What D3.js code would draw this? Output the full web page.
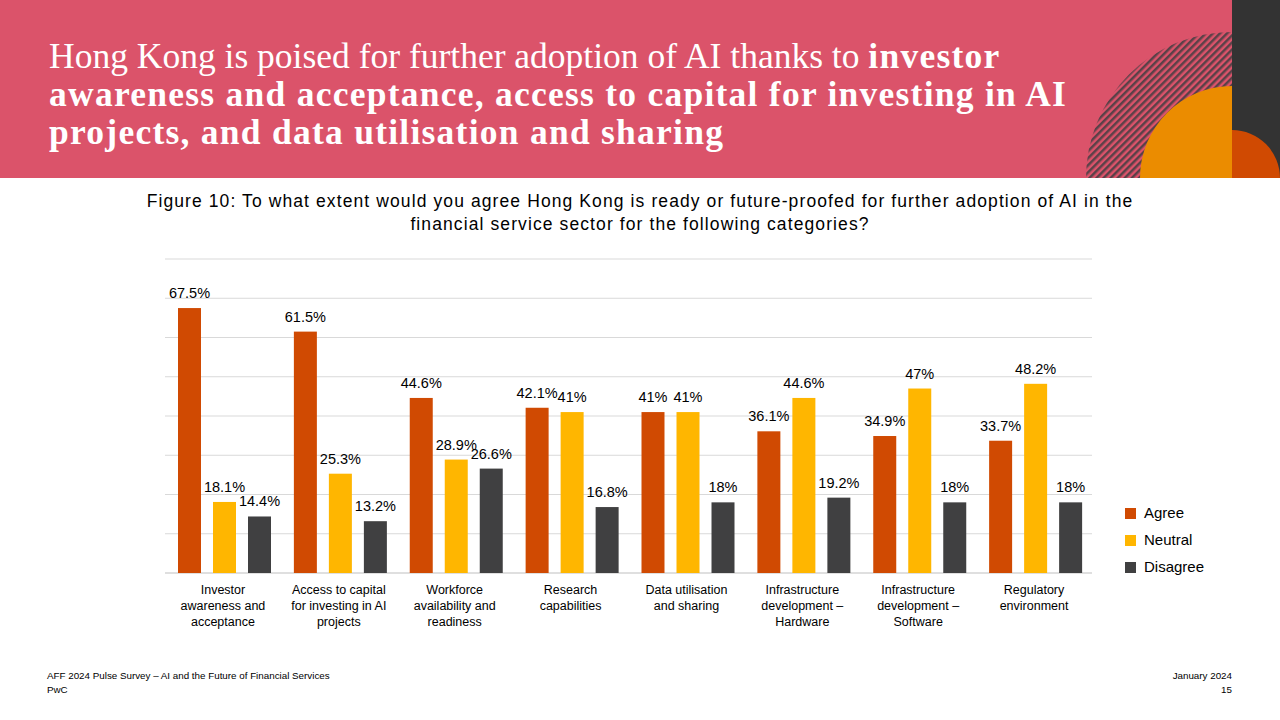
<!DOCTYPE html>
<html><head><meta charset="utf-8">
<script src="https://cdn.jsdelivr.net/npm/d3@7"></script>
<style>body{margin:0;background:#fff}svg{display:block}</style>
</head><body><svg id="c" width="1280" height="720"></svg>
<script>
const categories = [["Investor","awareness and","acceptance"],["Access to capital","for investing in AI","projects"],["Workforce","availability and","readiness"],["Research","capabilities"],["Data utilisation","and sharing"],["Infrastructure","development –","Hardware"],["Infrastructure","development –","Software"],["Regulatory","environment"]];
const series = ["Agree","Neutral","Disagree"];
const agree = [67.5,61.5,44.6,42.1,41,36.1,34.9,33.7];
const neutral = [18.1,25.3,28.9,41,41,44.6,47,48.2];
const disagree = [14.4,13.2,26.6,16.8,18,19.2,18,18];
const colors = ["#D04A02","#FFB600","#404041"];
const yTicks = [0,10,20,30,40,50,60,70,80];

const svg = d3.select("#c");
svg.append("rect").attr("x",0).attr("y",0).attr("width",1232).attr("height",178).attr("fill","#DB536A");
svg.append("rect").attr("x",1232).attr("y",0).attr("width",48).attr("height",178).attr("fill","#333333");
const defs = svg.append("defs");
const pat = defs.append("pattern").attr("id","hatch").attr("patternUnits","userSpaceOnUse").attr("width",5).attr("height",5).attr("patternTransform","rotate(45)");
pat.append("rect").attr("width",5).attr("height",5).attr("fill","#DB536A");
pat.append("rect").attr("width",2.5).attr("height",5).attr("fill","#5a4148");
defs.append("clipPath").attr("id","hc").append("rect").attr("x",0).attr("y",0).attr("width",1232).attr("height",178);
defs.append("clipPath").attr("id","rc").append("rect").attr("x",1232).attr("y",0).attr("width",48).attr("height",178);
svg.append("circle").attr("cx",1232).attr("cy",178).attr("r",146).attr("fill","url(#hatch)").attr("clip-path","url(#hc)");
svg.append("circle").attr("cx",1232).attr("cy",178).attr("r",92).attr("fill","#EB8C00").attr("clip-path","url(#hc)");
svg.append("circle").attr("cx",1232).attr("cy",178).attr("r",48).attr("fill","#D04A02").attr("clip-path","url(#rc)");

const title = svg.append("text").attr("font-family","Liberation Serif, serif").attr("font-size",35.5).attr("fill","#fff");
const tl = [[["Hong Kong is poised for further adoption of AI thanks to ",400],["investor",700]],[["awareness and acceptance, access to capital for investing in AI",700]],[["projects, and data utilisation and sharing",700]]];
tl.forEach((l,i)=>{const t=title.append("tspan").attr("x",49).attr("y",68+i*38);
  l.forEach(([s,w])=>t.append("tspan").attr("font-weight",w).attr("letter-spacing",w===700?1.25:0).text(s));});

[["Figure 10:  To what extent would you agree Hong Kong is ready or future-proofed for further adoption of AI in the",207],["financial service sector for the following categories?",230]].forEach(([s,yy])=>
svg.append("text").attr("x",640).attr("y",yy).attr("text-anchor","middle").attr("font-family","Liberation Sans, Arial").attr("font-size",17.5).attr("letter-spacing",1.1).attr("fill","#000").text(s));

const x0 = d3.scaleBand().domain(d3.range(8)).range([165,1092]);
const y = d3.scaleLinear().domain([0,80]).range([573,259]);
const x1 = d3.scaleBand().domain(series).range([13,106]).paddingInner(0.343);
svg.append("g").selectAll("line").data(yTicks.slice(1)).join("line")
  .attr("x1",165).attr("x2",1092).attr("y1",d=>y(d)).attr("y2",d=>y(d)).attr("stroke","#d9d9d9").attr("stroke-width",1);
svg.append("line").attr("x1",165).attr("x2",1092).attr("y1",y(0)).attr("y2",y(0)).attr("stroke","#bfbfbf");

const data = [agree,neutral,disagree];
series.forEach((s,si)=>{
  const g = svg.append("g");
  g.selectAll("rect").data(data[si]).join("rect")
    .attr("x",(d,i)=>x0(i)+x1(s)).attr("width",x1.bandwidth()).attr("y",d=>y(d)).attr("height",d=>y(0)-y(d)).attr("fill",colors[si]);
  g.selectAll("text").data(data[si]).join("text")
    .attr("x",(d,i)=>x0(i)+x1(s)+x1.bandwidth()/2).attr("y",d=>y(d)-10).attr("text-anchor","middle")
    .attr("font-family","Liberation Sans, Arial").attr("font-size",14.5).attr("fill","#000").text(d=>d+"%");
});
categories.forEach((c,i)=>{
  const t = svg.append("text").attr("text-anchor","middle").attr("font-family","Liberation Sans, Arial").attr("font-size",12.5).attr("fill","#000");
  c.forEach((l,j)=>t.append("tspan").attr("x",x0(i)+x0.bandwidth()/2).attr("y",594+j*16).text(l));
});
series.forEach((s,i)=>{
  svg.append("rect").attr("x",1125).attr("y",508+i*27).attr("width",11).attr("height",11).attr("fill",colors[i]);
  svg.append("text").attr("x",1144).attr("y",518+i*27).attr("font-family","Liberation Sans, Arial").attr("font-size",15).text(s);
});
const f = (x,y,t,a)=>svg.append("text").attr("x",x).attr("y",y).attr("text-anchor",a).attr("font-family","Liberation Sans, Arial").attr("font-size",9.8).text(t);
f(47,679,"AFF 2024 Pulse Survey – AI and the Future of Financial Services","start");
f(47,693,"PwC","start");
f(1232,679,"January 2024","end");
f(1232,693,"15","end");
</script></body></html>
